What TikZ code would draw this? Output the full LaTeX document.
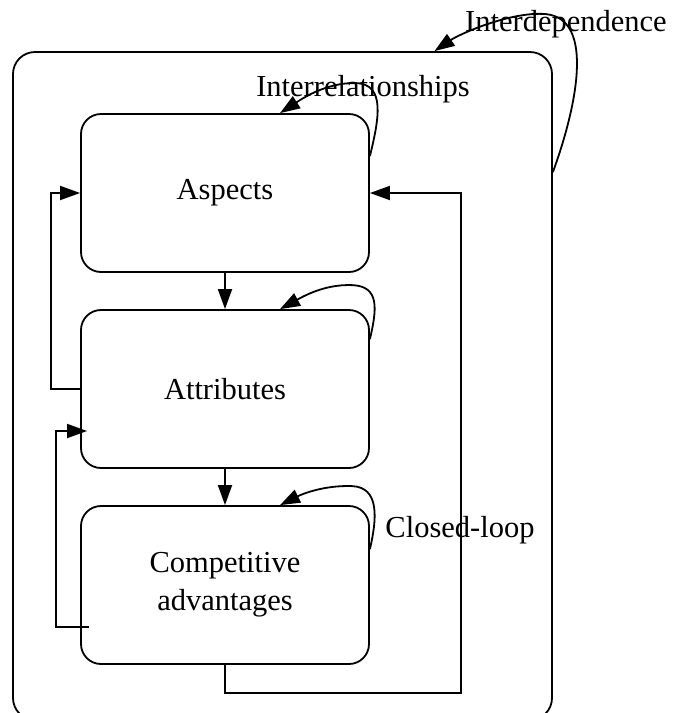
\documentclass[tikz,border=0pt]{standalone}
\usepackage{fontspec}
\setmainfont{Liberation Serif}
\usetikzlibrary{arrows.meta,calc}
\begin{document}
\begin{tikzpicture}[x=1pt,y=-1pt,
  line width=1.8pt,
  box/.style={draw,rounded corners=20pt,minimum width=288pt,minimum height=158pt,align=center,inner sep=0pt,font=\fontsize{30.5}{38}\selectfont},
  lbl/.style={inner sep=0pt,font=\fontsize{30.5}{38}\selectfont},
  arr/.style={-{Triangle[length=20pt,width=14pt]}}]
\useasboundingbox (0,0) rectangle (676,713);
\node[draw,rounded corners=22pt,minimum width=539pt,minimum height=668pt,inner sep=0pt] (outer) at (282.5,386) {};
\node[box] (a) at (225,193) {Aspects};
\node[box] (b) at (225,389) {Attributes};
\node[box] (c) at (225,585) {Competitive\\advantages};
\node[lbl] (tint) at (363,89) {Interrelationships};
\node[lbl] (tdep) at (566,24) {Interdependence};
\node[lbl] (tcl) at (460,530) {Closed-loop};
\draw[arr] (a.south) -- (b.north);
\draw[arr] (b.south) -- (c.north);
\draw[arr] (b.west) -- ++(-29,0) |- (a.west);
\draw[arr] ($(c.west)+(9,42)$) -- ++(-33,0) |- ($(b.west)+(7,42)$);
\draw[arr] (c.south) -- ++(0,28) -| ($(a.east)+(91,0)$) -- (a.east);
% self loops
\draw[arr] ($(a.north east)+(0,43)$) .. controls +(9,-37) and +(30,1) .. ($(a.north east)+(-14,-30)$) .. controls +(-30,-1) and +(20,-13) .. ($(a.north)+(55,0)$);
\draw[arr] ($(b.north east)+(0,30)$) .. controls +(7,-30) and +(28,1) .. ($(b.north east)+(-18,-24)$) .. controls +(-28,-1) and +(22,-12) .. ($(b.north)+(55,0)$);
\draw[arr] ($(c.north east)+(0,44)$) .. controls +(7,-30) and +(28,1) .. ($(c.north east)+(-18,-19)$) .. controls +(-28,-1) and +(22,-11) .. ($(c.north)+(55,0)$);
\draw[arr] ($(outer.north east)+(0,121)$) .. controls +(23,-63) and +(50,5) .. ($(outer.north east)+(-7,-37)$) .. controls +(-35,-3) and +(25,-17) .. ($(outer.north)+(152,0)$);
\end{tikzpicture}
\end{document}
